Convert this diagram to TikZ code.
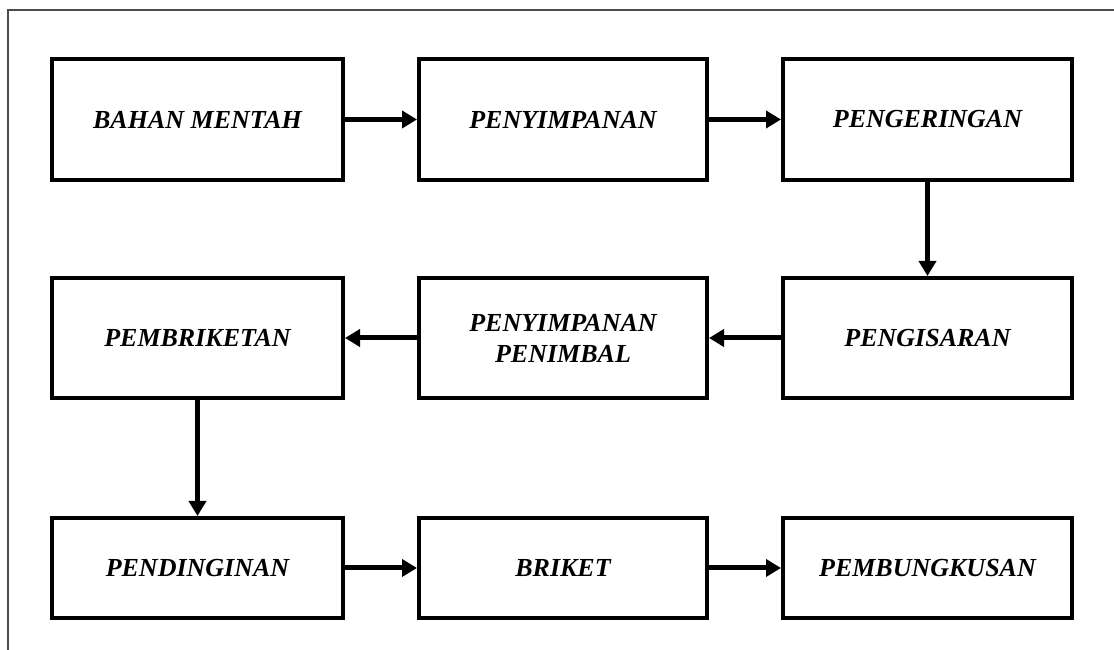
\documentclass[tikz,border=0pt]{standalone}
\usepackage{fontspec}
\setmainfont{Liberation Serif}
\usetikzlibrary{arrows.meta}
\begin{document}
\begin{tikzpicture}[x=1pt,y=1pt,
  procbox/.style={draw=black,line width=4pt,minimum width=291pt,minimum height=121pt,inner sep=2pt,align=center,font=\fontsize{26}{31}\selectfont\bfseries\itshape},
  flow/.style={line width=5pt,-{Triangle[length=15pt,width=17pt]}}]
\useasboundingbox (0,0) rectangle (1114,650);
\draw[line width=1.3pt,draw=black!70] (8,0) -- (8,640) -- (1114,640);
% row 1
\node[procbox] (a) at (197.5,530.5) {BAHAN MENTAH};
\node[procbox,minimum width=288pt] (b) at (563,530.5) {PENYIMPANAN};
\node[procbox,minimum width=289pt] (c) at (927.5,530.5) {PENGERINGAN};
% row 2
\node[procbox,minimum height=120pt] (f) at (197.5,312) {PEMBRIKETAN};
\node[procbox,minimum width=288pt,minimum height=120pt] (e) at (563,312) {PENYIMPANAN\\PENIMBAL};
\node[procbox,minimum width=289pt,minimum height=120pt] (d) at (927.5,312) {PENGISARAN};
% row 3
\node[procbox,minimum height=100pt] (g) at (197.5,82) {PENDINGINAN};
\node[procbox,minimum width=288pt,minimum height=100pt] (h) at (563,82) {BRIKET};
\node[procbox,minimum width=289pt,minimum height=100pt] (i) at (927.5,82) {PEMBUNGKUSAN};
\draw[flow] (a.east) -- (b.west);
\draw[flow] (b.east) -- (c.west);
\draw[flow] (c.south) -- (d.north);
\draw[flow] (d.west) -- (e.east);
\draw[flow] (e.west) -- (f.east);
\draw[flow] (f.south) -- (g.north);
\draw[flow] (g.east) -- (h.west);
\draw[flow] (h.east) -- (i.west);
\end{tikzpicture}
\end{document}
